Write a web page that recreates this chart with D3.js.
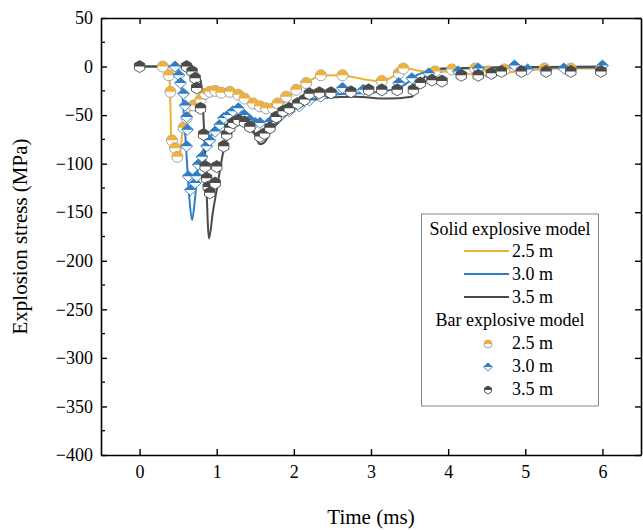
<!DOCTYPE html>
<html>
<head>
<meta charset="utf-8">
<script src="https://cdn.jsdelivr.net/npm/d3@7"></script>
<style>
  body { margin: 0; background: #fff; }
  text { font-family: "Liberation Serif", "Times New Roman", serif; fill: #000; }
</style>
</head>
<body>
<svg id="chart" width="643" height="530"></svg>
<script>
// solid explosive model: [time ms, stress MPa]
var solid25 = [[0,0],[0.29,0],[0.36,-3],[0.39,-15],[0.4,-40],[0.41,-75],[0.45,-85],[0.49,-97],[0.52,-92],[0.56,-65],[0.62,-50],[0.7,-42],[0.78,-33],[0.85,-27],[0.95,-24],[1.05,-25],[1.17,-28],[1.3,-33],[1.43,-38],[1.55,-41],[1.65,-42],[1.75,-41],[1.86,-38],[1.95,-31],[2.03,-24],[2.15,-17],[2.3,-11],[2.5,-9],[2.7,-10],[2.9,-13],[3.1,-15],[3.25,-12],[3.36,-5],[3.45,-2],[3.6,-4],[3.8,-6],[4.0,-5],[4.2,-7],[4.45,-9],[4.7,-7],[5.0,-4],[5.5,-2],[6.0,-2]];
var solid30 = [[0,0],[0.45,0],[0.5,-3],[0.55,-25],[0.6,-80],[0.64,-130],[0.68,-158],[0.72,-135],[0.76,-103],[0.85,-82],[0.98,-65],[1.1,-52],[1.2,-45],[1.27,-43],[1.35,-52],[1.43,-64],[1.51,-70],[1.6,-68],[1.77,-60],[1.9,-50],[2.03,-43],[2.2,-36],[2.4,-30],[2.7,-28],[3.0,-27],[3.2,-25],[3.36,-22],[3.5,-15],[3.57,-10],[3.75,-5],[3.9,-3],[4.2,-2],[5,-1],[6,-1]];
var solid35 = [[0,0],[0.62,0],[0.7,-3],[0.79,-14],[0.82,-40],[0.86,-110],[0.9,-177],[0.95,-150],[1.0,-127],[1.09,-86],[1.17,-68],[1.3,-55],[1.39,-53],[1.47,-65],[1.56,-80],[1.62,-78],[1.69,-68],[1.86,-52],[2.0,-42],[2.2,-36],[2.4,-32],[2.8,-31],[3.2,-33],[3.53,-31],[3.6,-22],[3.65,-15],[3.75,-7],[3.92,-2],[4.5,-1],[6,0]];

// bar explosive model (markers)
var bar25 = [[0.3,0],[0.38,-9],[0.4,-26],[0.42,-76],[0.46,-84],[0.49,-93],[0.57,-63],[0.61,-53],[0.7,-40],[0.79,-34],[0.85,-28],[0.91,-26],[0.98,-25],[1.06,-27],[1.17,-26],[1.28,-29],[1.36,-33],[1.47,-38],[1.56,-41],[1.64,-43],[1.73,-43],[1.79,-38],[1.9,-31],[2.03,-24],[2.16,-17],[2.35,-9],[2.63,-9],[3.14,-15],[3.36,-7],[3.42,-2],[3.83,-5],[4.05,-3],[4.35,-2],[4.52,-5],[4.73,-3],[5.25,-2],[5.59,-2],[5.98,-3]];
var bar30 = [[0.46,0],[0.51,-9],[0.53,-17],[0.57,-28],[0.59,-40],[0.61,-52],[0.62,-65],[0.61,-82],[0.63,-113],[0.66,-127],[0.72,-120],[0.74,-113],[0.76,-101],[0.81,-93],[0.87,-82],[0.91,-76],[0.98,-67],[1.04,-60],[1.09,-53],[1.15,-50],[1.21,-46],[1.28,-43],[1.36,-50],[1.43,-55],[1.5,-58],[1.56,-58],[1.69,-57],[1.81,-52],[1.94,-46],[2.07,-41],[2.2,-35],[2.35,-31],[2.5,-27],[2.63,-22],[2.9,-24],[3.36,-17],[3.53,-12],[3.75,-7],[4.13,-5],[4.39,-2],[4.86,1],[5.03,-3],[5.5,-2],[6.0,1]];
var bar35 = [[0,0],[0.61,0],[0.68,-5],[0.72,-12],[0.74,-22],[0.79,-43],[0.83,-70],[0.85,-103],[0.87,-115],[0.89,-124],[0.91,-130],[0.98,-120],[1.0,-103],[1.09,-82],[1.13,-70],[1.17,-63],[1.21,-58],[1.28,-55],[1.36,-57],[1.43,-62],[1.56,-72],[1.62,-69],[1.69,-63],[1.77,-52],[1.86,-46],[1.94,-43],[2.05,-38],[2.14,-34],[2.2,-28],[2.33,-27],[2.48,-27],[2.74,-26],[2.97,-24],[3.14,-24],[3.34,-24],[3.55,-24],[3.64,-17],[3.79,-14],[3.92,-15],[4.17,-9],[4.39,-9],[4.56,-7],[4.69,-5],[4.95,-5],[5.27,-5],[5.59,-5],[5.98,-5]];

var xTicks = [0, 1, 2, 3, 4, 5, 6];
var yTicks = [50, 0, -50, -100, -150, -200, -250, -300, -350, -400];
var legendLabels = ["2.5 m", "3.0 m", "3.5 m"];

var colors = ["#F0B13A", "#2F7DC4", "#4A4A4A"];

var svg = d3.select("#chart");
var mLeft = 101, mRight = 641, mTop = 18, mBottom = 455;

var x = d3.scaleLinear().domain([-0.5, 6.5]).range([mLeft, mRight]);
var y = d3.scaleLinear().domain([-400, 50]).range([mBottom, mTop]);

// lines
var line = d3.line()
  .x(d => x(d[0]))
  .y(d => y(d[1]))
  .curve(d3.curveMonotoneX);

[solid25, solid30, solid35].forEach(function(s, i) {
  svg.append("path")
    .datum(s)
    .attr("d", line)
    .attr("fill", "none")
    .attr("stroke", colors[i])
    .attr("stroke-width", 2);
});

// half-filled marker shapes
var c30 = Math.cos(Math.PI / 6);
function shapes(kind, r) {
  if (kind === 0) {
    return {
      full: `M${-r},0A${r},${r} 0 1 1 ${r},0A${r},${r} 0 1 1 ${-r},0Z`,
      top: `M${-r},0A${r},${r} 0 0 1 ${r},0Z`
    };
  } else if (kind === 1) {
    return {
      full: `M${-r * 1.1},0L0,${-r}L${r * 1.1},0L0,${r}Z`,
      top: `M${-r * 1.1},0L0,${-r}L${r * 1.1},0Z`
    };
  }
  return {
    full: `M0,${-r}L${r * c30},${-r / 2}L${r * c30},${r / 2}L0,${r}L${-r * c30},${r / 2}L${-r * c30},${-r / 2}Z`,
    top: `M${-r * c30},0L${-r * c30},${-r / 2}L0,${-r}L${r * c30},${-r / 2}L${r * c30},0Z`
  };
}

function drawMarker(g, kind, r, color) {
  var s = shapes(kind, r);
  g.append("path").attr("d", s.full).attr("fill", "#fff")
    .attr("stroke", kind === 0 ? "#9a9a9a" : color).attr("stroke-width", 0.9);
  g.append("path").attr("d", s.top).attr("fill", color);
}

[bar25, bar30, bar35].forEach(function(s, i) {
  var rad = [5.5, 5.5, 6][i];
  svg.append("g").selectAll("g")
    .data(s)
    .enter()
    .append("g")
      .attr("transform", d => `translate(${x(d[0])},${y(d[1])})`)
      .each(function() { drawMarker(d3.select(this), i, rad, colors[i]); });
});

// axes
var yMinor = d3.range(-400, 51, 25);

var gl = svg.append("g").attr("transform", `translate(${mLeft},0)`)
  .call(d3.axisLeft(y).tickValues(yTicks).tickSizeInner(-6).tickSizeOuter(0).tickPadding(8)
    .tickFormat(d => d < 0 ? "\u2212" + Math.abs(d) : d));
gl.selectAll("text").attr("x", -8);

svg.append("g").selectAll("line")
  .data(yMinor.filter(d => yTicks.indexOf(d) < 0))
  .enter().append("line")
    .attr("x1", mLeft).attr("x2", mLeft + 4)
    .attr("y1", d => y(d)).attr("y2", d => y(d))
    .attr("stroke", "#000").attr("stroke-width", 1.3);

var gb = svg.append("g").attr("transform", `translate(0,${mBottom})`)
  .call(d3.axisBottom(x).tickValues(xTicks).tickSizeInner(-6).tickSizeOuter(0).tickPadding(10)
    .tickFormat(d3.format("d")));

var gt = svg.append("g").attr("transform", `translate(0,${mTop})`)
  .call(d3.axisTop(x).tickValues(xTicks).tickSizeInner(-6).tickSizeOuter(0).tickFormat(""));
var gr = svg.append("g").attr("transform", `translate(${mRight},0)`)
  .call(d3.axisRight(y).tickValues(yTicks).tickSizeInner(-6).tickSizeOuter(0).tickFormat(""));

[gl, gb, gt, gr].forEach(function(g) {
  g.select(".domain").attr("stroke-width", 1.6);
  g.selectAll(".tick line").attr("stroke-width", 1.4);
  g.selectAll("text")
    .style("font-family", "'Liberation Serif', serif")
    .style("font-size", "18px");
});

// axis titles
svg.append("text")
  .attr("transform", `translate(27,${(mTop + mBottom) / 2}) rotate(-90)`)
  .attr("text-anchor", "middle")
  .style("font-size", "21px")
  .text("Explosion stress (MPa)");

svg.append("text")
  .attr("x", (mLeft + mRight) / 2)
  .attr("y", 524)
  .attr("text-anchor", "middle")
  .style("font-size", "21px")
  .text("Time (ms)");

// legend
var lg = svg.append("g");
lg.append("rect")
  .attr("x", 421.5).attr("y", 214).attr("width", 177).attr("height", 192)
  .attr("fill", "#fff").attr("stroke", "#888").attr("stroke-width", 1);

lg.append("text").attr("x", 510).attr("y", 235).attr("text-anchor", "middle")
  .style("font-size", "18px").text("Solid explosive model");
lg.append("text").attr("x", 510).attr("y", 326).attr("text-anchor", "middle")
  .style("font-size", "18px").text("Bar explosive model");

legendLabels.forEach(function(lab, i) {
  var ly = 251 + i * 23;
  lg.append("line")
    .attr("x1", 464).attr("x2", 509).attr("y1", ly).attr("y2", ly)
    .attr("stroke", colors[i]).attr("stroke-width", 2);
  lg.append("text").attr("x", 512).attr("y", ly + 6)
    .style("font-size", "18px").text(lab);

  var my = 344 + i * 23;
  var mg = lg.append("g").attr("transform", `translate(488,${my})`);
  drawMarker(mg, i, 4, colors[i]);
  lg.append("text").attr("x", 512).attr("y", my + 5)
    .style("font-size", "18px").text(lab);
});
</script>
</body>
</html>
